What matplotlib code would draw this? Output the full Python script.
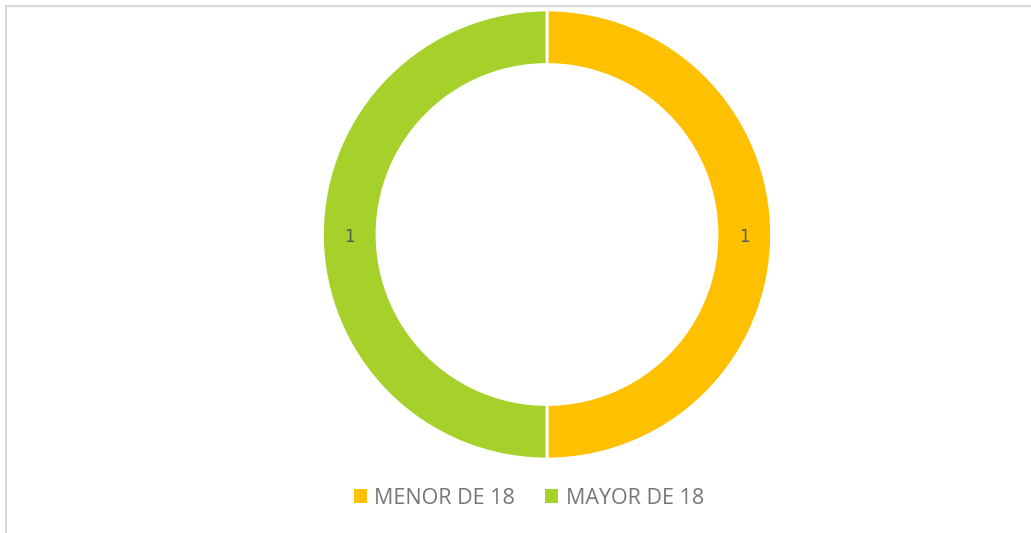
import matplotlib.pyplot as plt
from matplotlib.patches import Rectangle, Patch

# Data
labels = ["MENOR DE 18", "MAYOR DE 18"]
values = [1, 1]
colors = ["#FFC000", "#A5D12A"]

W, H = 1031, 533
fig = plt.figure(figsize=(W / 100, H / 100), dpi=100)

# light frame around the chart area (cropped at right/bottom)
fig.patches.append(Rectangle((6 / W, -0.05), 1.1, 1 - 6 / H + 0.05,
                             transform=fig.transFigure, fill=False,
                             edgecolor="#D9D9D9", linewidth=1.5))

# donut centred at (547, 234.5) px, outer radius 224.5 px
cx, cy, r = 547, 234.5, 224.5
ax = fig.add_axes([(cx - r) / W, (H - cy - r) / H, 2 * r / W, 2 * r / H])
inner = 170 / r
wedges, _ = ax.pie(values, colors=colors, startangle=90, counterclock=False,
                   radius=1, wedgeprops=dict(width=1 - inner, edgecolor="white", linewidth=2))
ax.set_xlim(-1, 1)
ax.set_ylim(-1, 1)
ax.set_aspect("equal")
ax.axis("off")

# value labels in the middle of the ring
mid = (1 + inner) / 2
ax.text(mid, -0.012, str(values[0]), ha="center", va="center", fontsize=12, color="#595959")
ax.text(-mid, -0.012, str(values[1]), ha="center", va="center", fontsize=12, color="#595959")

handles = [Patch(facecolor=c, edgecolor="none") for c in colors]
fig.legend(handles, labels, loc="center", bbox_to_anchor=(529 / W, 1 - 498 / H),
           ncol=2, frameon=False, labelcolor="#767676",
           handlelength=0.6, handleheight=0.6, handletextpad=0.35, columnspacing=1.4,
           prop={"family": "Open Sans", "size": 15.5})

fig.savefig("out.png", dpi=100)
